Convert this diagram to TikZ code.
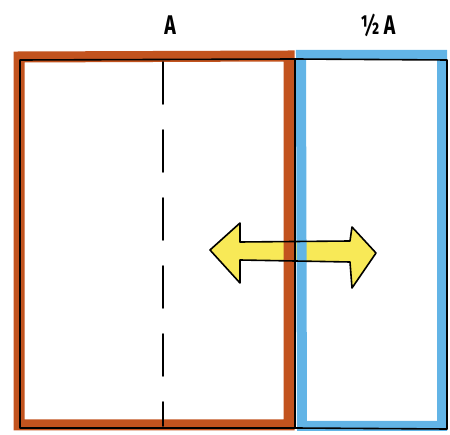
\documentclass[tikz,border=0pt]{standalone}
\usepackage{fontspec}
\setmainfont{Fira Sans}[FakeStretch=0.72]
\usetikzlibrary{calc}
\definecolor{rust}{HTML}{C2531E}
\definecolor{sky}{HTML}{62B4E6}
\definecolor{marker}{HTML}{F7E53A}

\tikzset{
  rustpen/.style={draw=rust,line width=11pt,line cap=round},
  skypen/.style={draw=sky,line width=10pt,line cap=round},
  inkpen/.style={draw=black,line width=1.6pt,line cap=round,line join=round},
  heading/.style={font=\bfseries\fontsize{27}{30}\selectfont,inner sep=0pt}
}

\begin{document}
\begin{tikzpicture}[x=1pt,y=-1pt]
        \useasboundingbox (0,0) rectangle (450,435);
        % corners of the two panels (black ink)
        \coordinate (tl) at (20,60);
        \coordinate (tm) at (295,59);
        \coordinate (tr) at (447,60);
        \coordinate (bl) at (20,428);
        \coordinate (bm) at (295,428);
        \coordinate (br) at (447,429);
        % yellow arrow (behind the strokes)
        \fill[marker,fill opacity=0.85] (210,250) -- (240,223) -- (240,242) -- (350,241)
          -- (352,227) -- (376,253) -- (352,288) -- (350,262) -- (240,260) -- (240,283) -- cycle;
        % coloured marker strokes
        \draw[skypen] (301,55) -- (442,55) -- (442,426) -- (302,426) -- cycle;
        \draw[rustpen] (19,57) -- (289,56) -- (289,425) -- (19,425) -- cycle;
        % black ink outlines
        \draw[inkpen] (tl) -- (tm) -- (tr) -- (br) -- (bm) -- (bl) -- cycle;
        \draw[inkpen] (tm) -- (bm);
        \draw[inkpen,dash pattern=on 42pt off 26pt] (163,62) -- (163,426);
        \draw[inkpen] (210,250) -- (240,223) -- (240,242) -- (350,241)
          -- (352,227) -- (376,253) -- (352,288) -- (350,262) -- (240,260) -- (240,283) -- cycle;
        % labels
        \node[heading] (labA) at (170,25) {A};
        \node[heading] (labHalf) at (378,25) {½\,A};
      \end{tikzpicture}
\end{document}
